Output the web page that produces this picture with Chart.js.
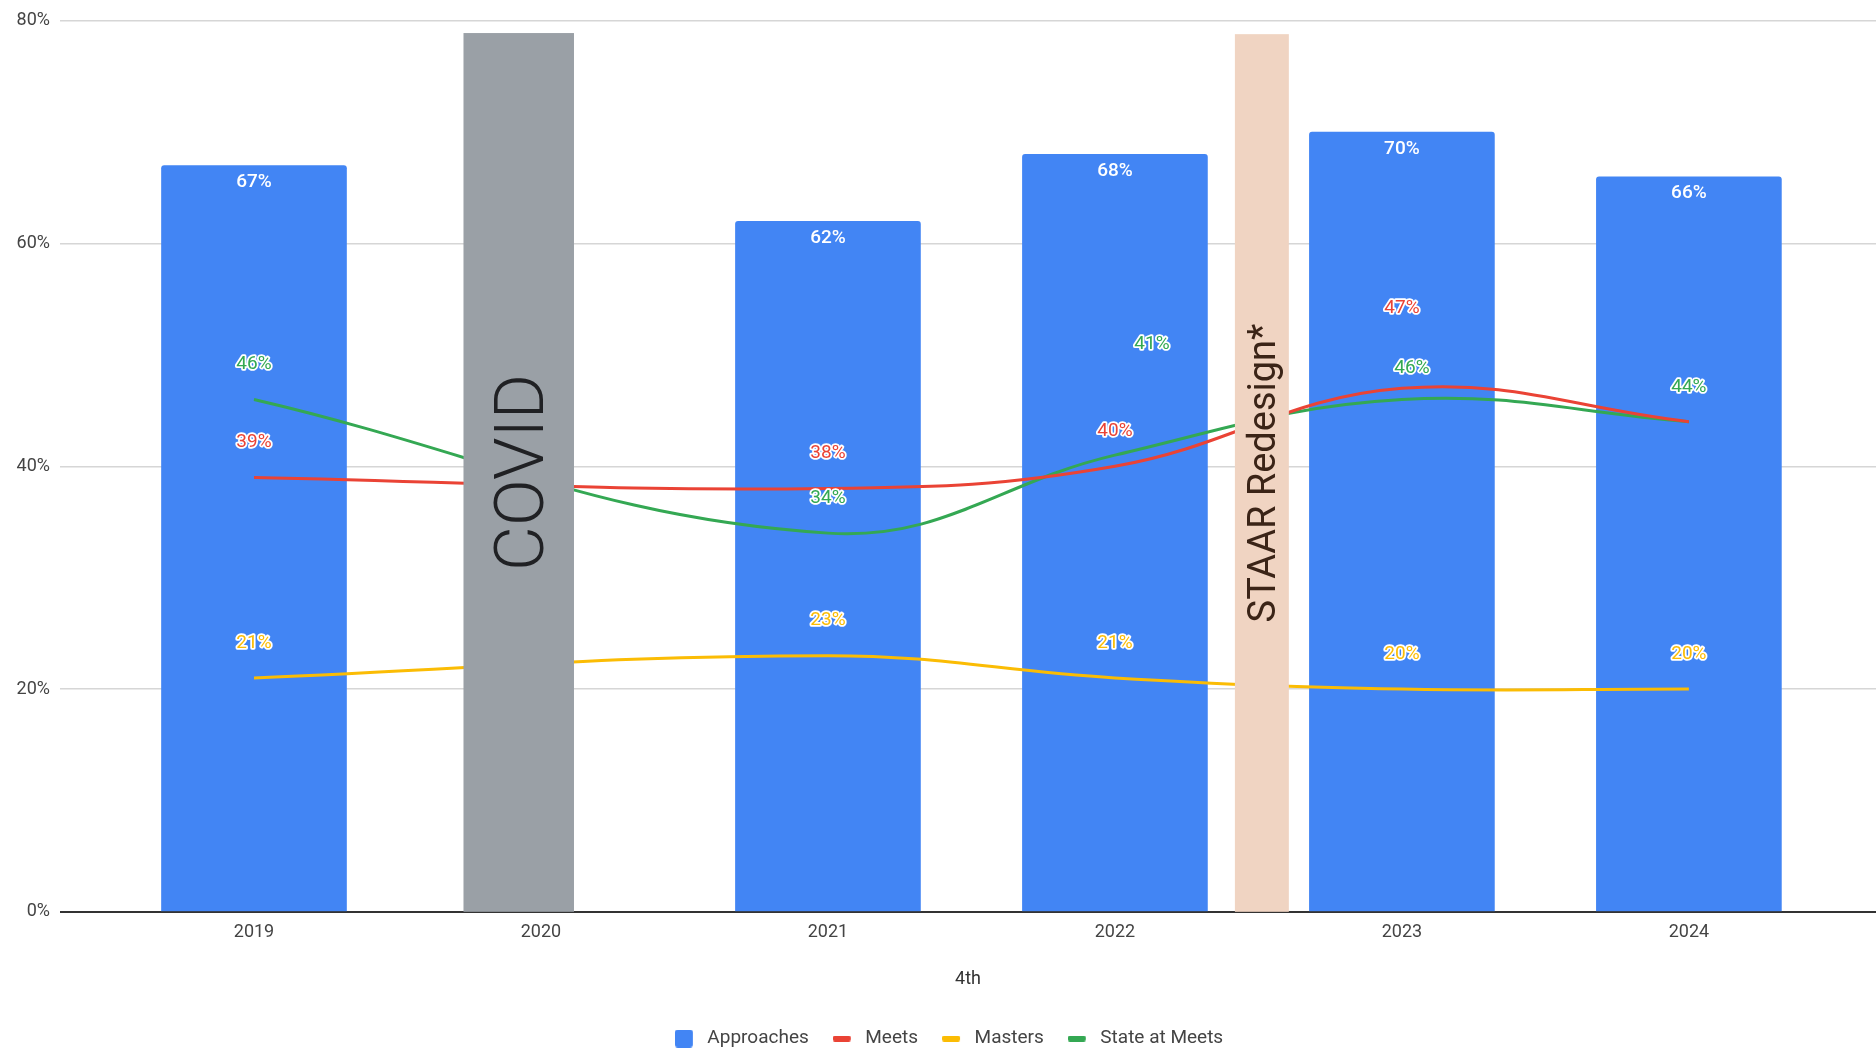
<!DOCTYPE html>
<html>
<head>
<meta charset="utf-8">
<script src="https://cdn.jsdelivr.net/npm/chart.js@4.4.1/dist/chart.umd.min.js"></script>
<style>
  html, body { margin: 0; padding: 0; background: #fff; }
  #wrap { width: 1876px; height: 1052px; position: relative; }
</style>
</head>
<body>
<div id="wrap"><canvas id="chart"></canvas></div>
<script>
// values (2020 has no data, the lines span the gap)
const years = [2019, 2020, 2021, 2022, 2023, 2024]
const approaches = [67, null, 62, 68, 70, 66]
const meets = [39, null, 38, 40, 47, 44]
const masters = [21, null, 23, 21, 20, 20]
const state_at_meets = [46, null, 34, 41, 46, 44]
const y_ticks = [0, 20, 40, 60, 80]
const x_title = "4th"

const BLUE = "#4285f4"
const RED = "#ea4335"
const YELLOW = "#fbbc04"
const GREEN = "#34a853"
const FONT = "Roboto, 'Liberation Sans', Arial, sans-serif"

// the two picture boxes pasted over the chart, placed in axis units
const overlays = [
    { text: "COVID", from: 2019.73, to: 2020.115, top: 78.9, fill: "#9aa0a6", color: "#202124", size: 69, weight: 300 },
    { text: "STAAR Redesign*", from: 2022.418, to: 2022.606, top: 78.8, fill: "#f0d4c2", color: "#3b2417", size: 38, weight: 400 }
]

// label moves google made to avoid collisions, "dataset:index" -> [dx, dy] or null = hidden
const label_nudge = {
    "3:3": [37, -76],
    "1:4": [0, -45],
    "3:4": [10, 4],
    "1:5": null
}

function pts(values) {
    return years.map((y, i) => ({ x: y, y: values[i] }))
}

// legend marker with a bit of empty room on its right, so the text sits further off
function swatch(color, w, h, r) {
    const c = document.createElement("canvas")
    c.width = w + 5
    c.height = h
    const g = c.getContext("2d")
    g.fillStyle = color
    g.beginPath()
    g.roundRect(0, 0, w, h, r)
    g.fill()
    return c
}

const legend_marks = [swatch(BLUE, 18, 18, 3), swatch(RED, 18, 6, 2), swatch(YELLOW, 18, 6, 2), swatch(GREEN, 18, 6, 2)]

function line_set(label, values, color) {
    return {
        type: "line",
        label: label,
        data: pts(values),
        borderColor: color,
        backgroundColor: color,
        borderWidth: 3,
        pointRadius: 0,
        tension: 0.4,
        spanGaps: true,
        order: 0
    }
}

const value_labels = {
    id: "value_labels",
    afterLayout(chart) {
        // google's legend sits a little right of the page centre
        chart.legend.left += 11
        chart.legend.right += 11
    },
    afterDatasetsDraw(chart) {
        const ctx = chart.ctx
        ctx.save()
        ctx.textAlign = "center"
        ctx.textBaseline = "middle"
        chart.data.datasets.forEach((ds, di) => {
            const meta = chart.getDatasetMeta(di)
            meta.data.forEach((el, i) => {
                const v = ds.data[i].y
                if (v === null || v === undefined) return
                const txt = v + "%"
                if (di === 0) {
                    ctx.font = "500 19px " + FONT
                    ctx.fillStyle = "#ffffff"
                    ctx.fillText(txt, el.x, el.y + 17)
                    return
                }
                const key = di + ":" + i
                let dx = 0, dy = 0
                if (key in label_nudge) {
                    if (label_nudge[key] === null) return
                    dx = label_nudge[key][0]
                    dy = label_nudge[key][1]
                }
                const x = el.x + dx
                const y = el.y - 35 + dy
                ctx.font = "400 19px " + FONT
                ctx.lineJoin = "round"
                ctx.lineWidth = 3.5
                ctx.strokeStyle = "#ffffff"
                ctx.strokeText(txt, x, y)
                ctx.fillStyle = ds.borderColor
                ctx.fillText(txt, x, y)
            })
        })
        ctx.restore()

        // picture boxes go on top of everything
        const xs = chart.scales.x
        const ys = chart.scales.y
        overlays.forEach(o => {
            const x0 = xs.getPixelForValue(o.from)
            const x1 = xs.getPixelForValue(o.to)
            const y0 = ys.getPixelForValue(o.top)
            const y1 = ys.getPixelForValue(0)
            ctx.save()
            ctx.fillStyle = o.fill
            ctx.fillRect(x0, y0, x1 - x0, y1 - y0)
            ctx.translate((x0 + x1) / 2, (y0 + y1) / 2)
            ctx.rotate(-Math.PI / 2)
            ctx.fillStyle = o.color
            ctx.textAlign = "center"
            ctx.textBaseline = "alphabetic"
            ctx.font = o.weight + " " + o.size + "px " + FONT
            ctx.fillText(o.text, 0, o.size * 0.355)
            ctx.restore()
        })
    }
}

const chart = new Chart(document.getElementById("chart"), {
    data: {
        datasets: [
            {
                type: "bar",
                label: "Approaches",
                data: pts(approaches),
                backgroundColor: BLUE,
                barThickness: 185,
                borderRadius: { topLeft: 3, topRight: 3 },
                borderSkipped: "bottom",
                order: 1
            },
            line_set("Meets", meets, RED),
            line_set("Masters", masters, YELLOW),
            line_set("State at Meets", state_at_meets, GREEN)
        ]
    },
    options: {
        responsive: true,
        maintainAspectRatio: false,
        animation: false,
        layout: { padding: { top: 2, right: 0, bottom: -6, left: 0 } },
        scales: {
            x: {
                type: "linear",
                min: 2018.324,
                max: 2024.652,
                offset: false,
                grid: { display: false },
                border: { display: false },
                afterBuildTicks: (scale) => { scale.ticks = years.map(y => ({ value: y })) },
                ticks: {
                    callback: (v) => String(v),
                    color: "#444",
                    font: { family: FONT, size: 18 },
                    padding: 2,
                    maxRotation: 0
                },
                title: {
                    display: true,
                    text: x_title,
                    color: "#333",
                    font: { family: FONT, size: 18 },
                    padding: { top: 23, bottom: 15 }
                }
            },
            y: {
                min: 0,
                max: 80,
                afterBuildTicks: (scale) => { scale.ticks = y_ticks.map(v => ({ value: v })) },
                afterFit: (scale) => { scale.width = 60 },
                border: { display: false },
                grid: {
                    color: (c) => c.tick && c.tick.value === 0 ? "#333333" : "#d6d6d6",
                    lineWidth: (c) => c.tick && c.tick.value === 0 ? 2 : 1.5,
                    drawTicks: false
                },
                ticks: {
                    callback: (v) => v + "%",
                    color: "#444",
                    font: { family: FONT, size: 18 },
                    padding: 10
                }
            }
        },
        plugins: {
            tooltip: { enabled: false },
            legend: {
                position: "bottom",
                labels: {
                    usePointStyle: true,
                    pointStyleWidth: 23,
                    color: "#444",
                    font: { family: FONT, size: 19 },
                    padding: 24,
                    generateLabels: (chart) => chart.data.datasets.map((ds, i) => ({
                        text: ds.label,
                        fillStyle: ds.backgroundColor,
                        strokeStyle: ds.backgroundColor,
                        lineWidth: 0,
                        pointStyle: legend_marks[i],
                        fontColor: "#444",
                        hidden: false,
                        datasetIndex: i
                    }))
                }
            }
        }
    },
    plugins: [value_labels]
})
</script>
</body>
</html>
